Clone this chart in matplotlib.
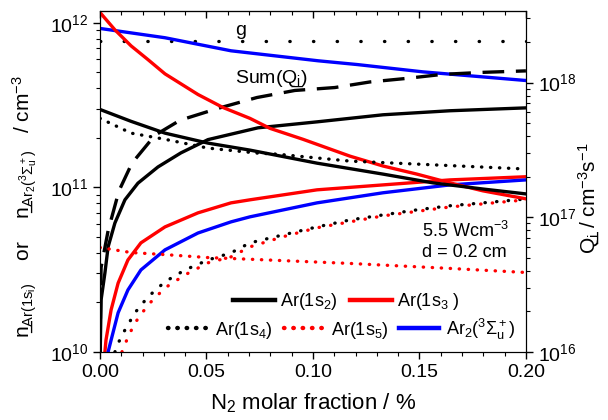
import numpy as np
import matplotlib.pyplot as plt

plt.rcParams['font.family'] = ['Liberation Sans', 'DejaVu Sans']
plt.rcParams['mathtext.fontset'] = 'custom'
plt.rcParams['mathtext.rm'] = 'Liberation Sans'
plt.rcParams['mathtext.it'] = 'Liberation Sans'
plt.rcParams['mathtext.bf'] = 'Liberation Sans'

# densities (left axis), N2 molar fraction in %
x_1s2 = [0.0001, 0.0005, 0.0023, 0.0038, 0.007, 0.0117, 0.0178, 0.0272, 0.038, 0.0507,
         0.0742, 0.1019, 0.1329, 0.1643, 0.2]
n_1s2 = [1.0e10, 2.07e10, 3.02e10, 4.35e10, 6.08e10, 8.4e10, 1.06e11, 1.33e11, 1.62e11,
         1.95e11, 2.3e11, 2.5e11, 2.76e11, 2.92e11, 3.04e11]
x_1s3 = [0.0023, 0.0028, 0.0052, 0.0085, 0.0131, 0.0192, 0.0305, 0.046, 0.0615, 0.0704,
         0.1019, 0.1329, 0.1643, 0.2]
n_1s3 = [1.0e10, 1.18e10, 1.8e10, 2.62e10, 3.62e10, 4.6e10, 5.75e10, 7.0e10, 8.05e10,
         8.4e10, 9.66e10, 1.035e11, 1.11e11, 1.16e11]
x_1s4 = [0.007, 0.0085, 0.0117, 0.0164, 0.0225, 0.0305, 0.0399, 0.0507, 0.0615, 0.0704,
         0.0859, 0.1019, 0.1174, 0.1329, 0.1488, 0.1643, 0.1798, 0.2]
n_1s4 = [1.0e10, 1.13e10, 1.36e10, 1.73e10, 2.16e10, 2.67e10, 3.15e10, 3.62e10, 4.0e10,
         4.6e10, 5.14e10, 5.75e10, 6.34e10, 6.8e10, 7.3e10, 7.73e10, 8.05e10, 8.5e10]
x_1s5 = [0.0103, 0.0131, 0.0164, 0.0225, 0.0305, 0.0399, 0.0507, 0.0615, 0.0704, 0.0859,
         0.1019, 0.1329, 0.1643, 0.2]
n_1s5 = [1.0e10, 1.23e10, 1.5e10, 1.93e10, 2.45e10, 2.94e10, 3.48e10, 3.78e10, 4.35e10,
         5.01e10, 5.68e10, 6.71e10, 7.6e10, 8.4e10]
x_ar2 = [0.0038, 0.0052, 0.0085, 0.0131, 0.0192, 0.0305, 0.046, 0.0615, 0.0704, 0.1019,
         0.1329, 0.1643, 0.2]
n_ar2 = [1.0e10, 1.18e10, 1.73e10, 2.38e10, 3.15e10, 4.17e10, 5.28e10, 6.17e10, 6.62e10,
         8.05e10, 9.27e10, 1.035e11, 1.11e11]

# source terms (right axis)
x_g = [0.0, 0.2]
q_g = [2.02e18, 2.02e18]
x_sum = [0.0, 0.0305, 0.0615, 0.1024, 0.1207, 0.1516, 0.2]
q_sum = [2.52e18, 2.15e18, 1.72e18, 1.45e18, 1.36e18, 1.2e18, 1.035e18]
x_dash = [0.0, 0.0005, 0.0038, 0.0089, 0.015, 0.0258, 0.0376, 0.0554, 0.0737, 0.0915,
          0.1103, 0.1268, 0.1432, 0.161, 0.1798, 0.2]
q_dash = [1.0e16, 4.24e16, 7.94e16, 1.57e17, 2.52e17, 4.06e17, 5.25e17, 6.43e17, 7.74e17,
          8.73e17, 9.18e17, 1.01e18, 1.07e18, 1.15e18, 1.19e18, 1.22e18]
x_q3 = [0.0, 0.007, 0.0146, 0.0225, 0.0305, 0.046, 0.0577, 0.0704, 0.0798, 0.0953,
        0.1174, 0.1329, 0.1488, 0.1643, 0.1798, 0.2]
q_q3 = [3.31e18, 2.46e18, 1.87e18, 1.48e18, 1.16e18, 8.15e17, 6.53e17, 5.42e17, 4.57e17,
        3.79e17, 2.84e17, 2.4e17, 2.09e17, 1.8e17, 1.57e17, 1.37e17]
x_q2 = [0.0, 0.0146, 0.0305, 0.0507, 0.0704, 0.1019, 0.1329, 0.1563, 0.1798, 0.2]
q_q2 = [6.31e17, 5.15e17, 4.21e17, 3.55e17, 3.15e17, 2.52e17, 2.09e17, 1.8e17, 1.62e17,
        1.49e17]
x_q4 = [0.0, 0.0146, 0.0305, 0.0507, 0.0742, 0.0831, 0.1174, 0.1488, 0.2]
q_q4 = [5.42e17, 4.21e17, 3.79e17, 3.26e17, 2.99e17, 2.94e17, 2.61e17, 2.48e17, 2.28e17]
x_q5 = [0.0, 0.0146, 0.0305, 0.0507, 0.0742, 0.1174, 0.1643, 0.2]
q_q5 = [5.96e16, 5.47e16, 5.28e16, 5.02e16, 4.85e16, 4.54e16, 4.17e16, 3.89e16]

fig, ax = plt.subplots(figsize=(6.08, 4.20), dpi=100)
fig.subplots_adjust(left=0.1645, right=0.865, top=0.974, bottom=0.162)
ax2 = ax.twinx()

lw = 2.4
ax.plot(x_1s2, n_1s2, color='black', lw=lw)
ax.plot(x_1s3, n_1s3, color='red', lw=lw)
ax.plot(x_1s4, n_1s4, color='black', lw=lw, ls=(0, (0.1, 3.4)), dash_capstyle='round')
ax.plot(x_1s5, n_1s5, color='red', lw=lw, ls=(0, (0.1, 3.4)), dash_capstyle='round')
ax.plot(x_ar2, n_ar2, color='blue', lw=lw)

ax2.plot(x_g, q_g, color='black', lw=lw, ls=(0, (0.1, 7.0)), dash_capstyle='round')
ax2.plot(x_sum, q_sum, color='blue', lw=lw)
ax2.plot(x_dash, q_dash, color='black', lw=lw, ls=(0, (6.5, 3.5)))
ax2.plot(x_q3, q_q3, color='red', lw=lw)
ax2.plot(x_q2, q_q2, color='black', lw=lw)
ax2.plot(x_q4, q_q4, color='black', lw=lw, ls=(0, (0.1, 2.6)), dash_capstyle='round')
ax2.plot(x_q5, q_q5, color='red', lw=lw, ls=(0, (0.1, 2.6)), dash_capstyle='round')

ax.set_xlim(0, 0.2)
ax.set_yscale('log')
ax.set_ylim(1e10, 1.18e12)
ax2.set_yscale('log')
ax2.set_ylim(1e16, 3.4e18)

xmaj = [0, 0.05, 0.10, 0.15, 0.20]
xmin = np.arange(0.01, 0.2, 0.01)
ax.set_xticks(xmaj)
ax.set_xticklabels(['0.00', '0.05', '0.10', '0.15', '0.20'])
ax.set_xticks(xmin, minor=True)
ax.tick_params(axis='both', which='both', labelsize=14, direction='out')
ax.tick_params(axis='both', which='major', length=5, width=1)
ax.tick_params(axis='both', which='minor', length=3, width=0.8)
ax2.tick_params(axis='y', which='both', labelsize=14, direction='out')
ax2.tick_params(axis='y', which='major', length=5, width=1)
ax2.tick_params(axis='y', which='minor', length=3, width=0.8)

top = ax.secondary_xaxis('top')
top.set_xticks(xmaj)
top.set_xticks(xmin, minor=True)
top.tick_params(which='both', direction='in', labeltop=False)
top.tick_params(which='major', length=5, width=1)
top.tick_params(which='minor', length=3, width=0.8)

ul_n = 'n\u0332'
ul_q = 'Q\u0332'
ax.set_xlabel(r'N$_2$ molar fraction / %', fontsize=16, labelpad=8)
ax.set_ylabel(ul_n + r'$_{Ar(1s_i)}$    or    ' + ul_n + r'$_{Ar_2(^3\Sigma_u^+)}$   / cm$^{-3}$',
              fontsize=15)
ax.yaxis.set_label_coords(-0.141, 0.425)
ax2.set_ylabel(ul_q + r'$_i$ / cm$^{-3}$s$^{-1}$', fontsize=15, rotation=90)
ax2.yaxis.set_label_coords(1.12, 0.45)

ax.text(0.0634, 8.46e11, 'g', fontsize=14)
ax.text(0.0634, 4.31e11, 'Sum(' + ul_q + r'$_i$)', fontsize=14)
ax.text(0.1512, 5.0e10, r'5.5 Wcm$^{-3}$', fontsize=13)
ax.text(0.1512, 3.78e10, 'd = 0.2 cm', fontsize=13)

h1, = ax.plot([], [], color='black', lw=3.2)
h2, = ax.plot([], [], color='red', lw=3.2)
h3, = ax.plot([], [], color='black', lw=3.2, ls=(0, (0.1, 2.0)), dash_capstyle='round')
h4, = ax.plot([], [], color='red', lw=3.2, ls=(0, (0.1, 2.0)), dash_capstyle='round')
h5, = ax.plot([], [], color='blue', lw=3.2)
leg1 = ax.legend([h1, h2], [r'Ar(1s$_2$)', r'Ar(1s$_3$ )'], ncol=2, frameon=False,
                 fontsize=13, handlelength=2.3, handletextpad=0.3, columnspacing=0.7,
                 loc='center', bbox_to_anchor=(0.579, 0.147))
ax.add_artist(leg1)
ax.legend([h3, h4, h5], [r'Ar(1s$_4$)', r'Ar(1s$_5$)', r'Ar$_2$($^3\Sigma_u^+$)'], ncol=3,
          frameon=False, fontsize=13, handlelength=2.2, handletextpad=0.4, columnspacing=0.6,
          loc='center', bbox_to_anchor=(0.568, 0.067))

fig.savefig('out.png', dpi=100)
